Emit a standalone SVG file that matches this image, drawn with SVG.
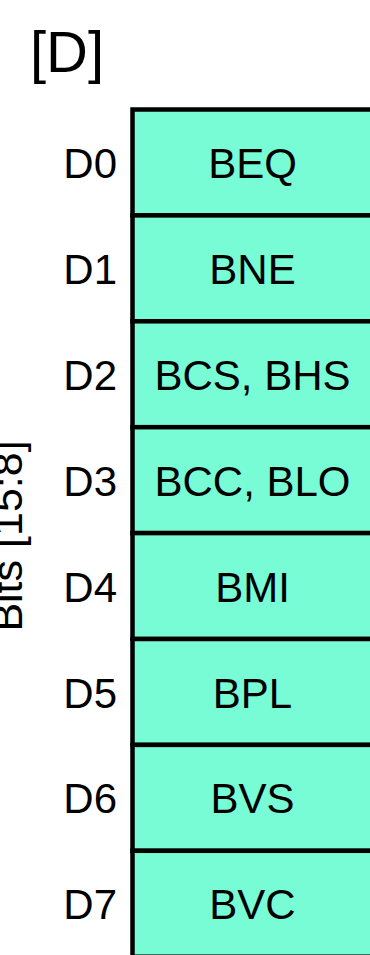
<svg xmlns="http://www.w3.org/2000/svg" width="370" height="955" viewBox="0 0 370 955">
  <style>
    text { font-family: "Liberation Sans", Arial, Helvetica, sans-serif; fill: #000; }
    .cell { fill: #77fcd6; stroke: #000; stroke-width: 4.5; }
    .op { font-size: 42px; text-anchor: middle; }
    .idx { font-size: 42px; text-anchor: end; }
    .title { font-size: 58px; }
  </style>
  <rect width="370" height="955" fill="#fff"/>
  <text class="title" x="30" y="72">[D]</text>
  <text id="axis-label" font-size="43" text-anchor="middle" transform="translate(22,536) rotate(-90)">Bits [15:8]</text>

  <!-- opcode table: one row per low nibble value -->
  <g id="row-d0"><rect class="cell" x="132.5" y="109.5" width="245" height="105.9"/><text class="idx" x="117" y="178">D0</text><text class="op" x="252.5" y="178">BEQ</text></g>
  <g id="row-d1"><rect class="cell" x="132.5" y="215.4" width="245" height="105.9"/><text class="idx" x="117" y="283.9">D1</text><text class="op" x="252.5" y="283.9">BNE</text></g>
  <g id="row-d2"><rect class="cell" x="132.5" y="321.3" width="245" height="105.9"/><text class="idx" x="117" y="389.8">D2</text><text class="op" x="252.5" y="389.8">BCS, BHS</text></g>
  <g id="row-d3"><rect class="cell" x="132.5" y="427.2" width="245" height="105.9"/><text class="idx" x="117" y="495.7">D3</text><text class="op" x="252.5" y="495.7">BCC, BLO</text></g>
  <g id="row-d4"><rect class="cell" x="132.5" y="533.1" width="245" height="105.9"/><text class="idx" x="117" y="601.6">D4</text><text class="op" x="252.5" y="601.6">BMI</text></g>
  <g id="row-d5"><rect class="cell" x="132.5" y="639.0" width="245" height="105.9"/><text class="idx" x="117" y="707.5">D5</text><text class="op" x="252.5" y="707.5">BPL</text></g>
  <g id="row-d6"><rect class="cell" x="132.5" y="744.9" width="245" height="105.9"/><text class="idx" x="117" y="813.4">D6</text><text class="op" x="252.5" y="813.4">BVS</text></g>
  <g id="row-d7"><rect class="cell" x="132.5" y="850.8" width="245" height="105.9"/><text class="idx" x="117" y="919.3">D7</text><text class="op" x="252.5" y="919.3">BVC</text></g>
  <g id="connectors"></g>
</svg>
